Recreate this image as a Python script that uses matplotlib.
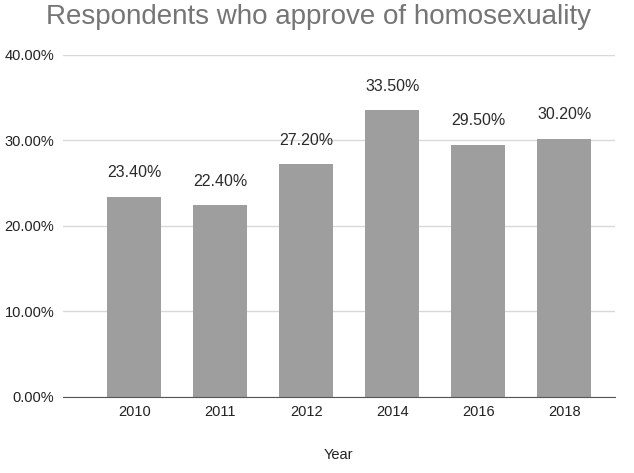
import matplotlib.pyplot as plt
from matplotlib.ticker import PercentFormatter

plt.rcParams['font.family'] = ['Liberation Sans', 'DejaVu Sans']

# Datos
years = ['2010', '2011', '2012', '2014', '2016', '2018']
approve = [23.4, 22.4, 27.2, 33.5, 29.5, 30.2]
yticks = [0, 10, 20, 30, 40]

fig = plt.figure(figsize=(6.34, 4.73), dpi=100)
ax = fig.add_axes([0.099, 0.161, 0.871, 0.723])

x = range(len(years))
bars = ax.bar(x, approve, width=0.63, color='#9e9e9e', zorder=3)

for b, v in zip(bars, approve):
    ax.annotate(f'{v:.2f}%', (b.get_x() + b.get_width() / 2, v),
                xytext=(0, 12), textcoords='offset points',
                ha='center', va='bottom', fontsize=11.5, color='#2a2a2a')

ax.set_xlim(-0.83, 5.59)
ax.set_ylim(0, 40)
ax.set_yticks(yticks)
ax.yaxis.set_major_formatter(PercentFormatter(decimals=2))
ax.set_xticks(list(x))
ax.set_xticklabels(years)
ax.grid(axis='y', color='#d9d9d9', linewidth=1, zorder=0)

for s in ['top', 'right', 'left']:
    ax.spines[s].set_visible(False)
ax.spines['bottom'].set_color('#555555')
ax.spines['bottom'].set_zorder(4)
ax.tick_params(length=0, labelsize=10.5, labelcolor='#222222')
ax.tick_params(axis='y', pad=6)
ax.tick_params(axis='x', pad=6)

ax.set_xlabel('Year', fontsize=10.5, color='#222222', labelpad=21)
fig.text(0.502, 0.965, 'Respondents who approve of homosexuality',
         ha='center', va='center', fontsize=20, color='#757575')

fig.savefig('out.png', dpi=100)
